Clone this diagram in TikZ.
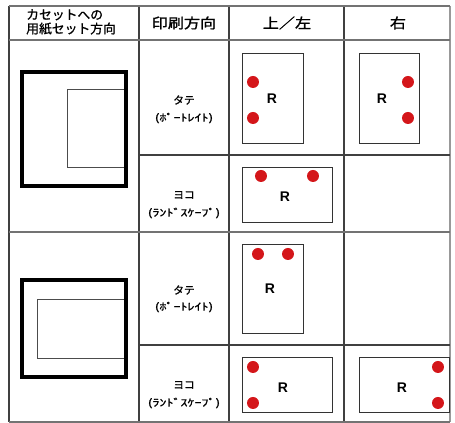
\documentclass[tikz,border=0pt]{standalone}
\usepackage{fontspec}
\setmainfont{Liberation Sans}
\newfontfamily\jp[AutoFakeBold=1.2]{Noto Sans CJK JP}
\definecolor{dotred}{RGB}{212,22,26}
\begin{document}
\begin{tikzpicture}[x=0.75pt,y=-0.75pt,
  vgrid/.style={draw=black!75,line width=0.8pt},
  hgrid/.style={draw=black!55,line width=1.4pt},
  paper/.style={draw=black!80,line width=0.6pt},
  cassette/.style={draw=black,line width=3pt},
  tray/.style={draw=black!70,line width=0.7pt},
  dot/.style={circle,fill=dotred,minimum size=9pt,inner sep=0pt},
  rlab/.style={font=\bfseries\fontsize{10.5}{12}\selectfont,inner sep=0pt},
  hd/.style={font=\jp\bfseries\fontsize{9.6}{10.5}\selectfont,inner sep=0pt},
  hdw/.style={font=\jp\bfseries\fontsize{10.5}{12}\selectfont,inner sep=0pt,xscale=1.15},
  sm/.style={font=\jp\bfseries\fontsize{8}{9}\selectfont,inner sep=0pt},
  smw/.style={font=\jp\bfseries\fontsize{7.5}{9}\selectfont,inner sep=0pt,xscale=1.4}]
\useasboundingbox (0,0) rectangle (455,423);
% grid
\draw[vgrid] (9,6) -- (9,422);
\draw[vgrid] (139,6) -- (139,422);
\draw[vgrid] (229,6) -- (229,422);
\draw[vgrid] (344,6) -- (344,422);
\draw[vgrid,draw=black!40] (450,6) -- (450,422);
\draw[hgrid] (9,6) -- (450,6);
\draw[hgrid] (9,40) -- (450,40);
\draw[hgrid] (9,232) -- (450,232);
\draw[hgrid] (9,422) -- (450,422);
\draw[vgrid] (139,155) -- (450,155);
\draw[vgrid] (139,345) -- (450,345);
% header
\node[hd,anchor=west,align=left] (h1) at (26,22) {カセットへの\\用紙セット方向};
\node[hdw] (h2) at (184,23) {印刷方向};
\node[hdw] (h3) at (287,23) {上／左};
\node[hdw] (h4) at (398,23) {右};
% cassettes
\draw[cassette] (22,72) rectangle (126,186);
\draw[tray] (124,89) -- (67,89) -- (67,167) -- (124,167);
\draw[cassette] (22,280) rectangle (126,377);
\draw[tray] (124,299) -- (37,299) -- (37,358) -- (124,358);
% column 2 labels
\node[sm] (t1) at (184,100) {タテ};
\node[smw] (p1) at (184,118) {(ﾎﾟｰﾄﾚｲﾄ)};
\node[sm] (y1) at (184,195) {ヨコ};
\node[smw] (l1) at (184,213) {(ﾗﾝﾄﾞｽｹｰﾌﾟ)};
\node[sm] (t2) at (184,290) {タテ};
\node[smw] (p2) at (184,307) {(ﾎﾟｰﾄﾚｲﾄ)};
\node[sm] (y2) at (184,385) {ヨコ};
\node[smw] (l2) at (184,403) {(ﾗﾝﾄﾞｽｹｰﾌﾟ)};
% top section papers
\draw[paper] (242,53) rectangle (303,143);
\node[dot] (d1) at (253,82) {};
\node[dot] (d2) at (253,118) {};
\node[rlab] (r1) at (272,99) {R};
\draw[paper] (359,53) rectangle (419,143);
\node[dot] (d3) at (408,82) {};
\node[dot] (d4) at (408,118) {};
\node[rlab] (r2) at (382,99) {R};
\draw[paper] (242,167) rectangle (332,222);
\node[dot] (d5) at (261,176) {};
\node[dot] (d6) at (313,176) {};
\node[rlab] (r3) at (285,197) {R};
% bottom section papers
\draw[paper] (242,244) rectangle (303,333);
\node[dot] (d7) at (258,254) {};
\node[dot] (d8) at (288,254) {};
\node[rlab] (r4) at (270,289) {R};
\draw[paper] (242,357) rectangle (332,412);
\node[dot] (d9) at (253,367) {};
\node[dot] (d10) at (253,403) {};
\node[rlab] (r5) at (283,388) {R};
\draw[paper] (359,357) rectangle (449,412);
\node[dot] (d11) at (438,367) {};
\node[dot] (d12) at (438,403) {};
\node[rlab] (r6) at (402,388) {R};
\end{tikzpicture}
\end{document}
